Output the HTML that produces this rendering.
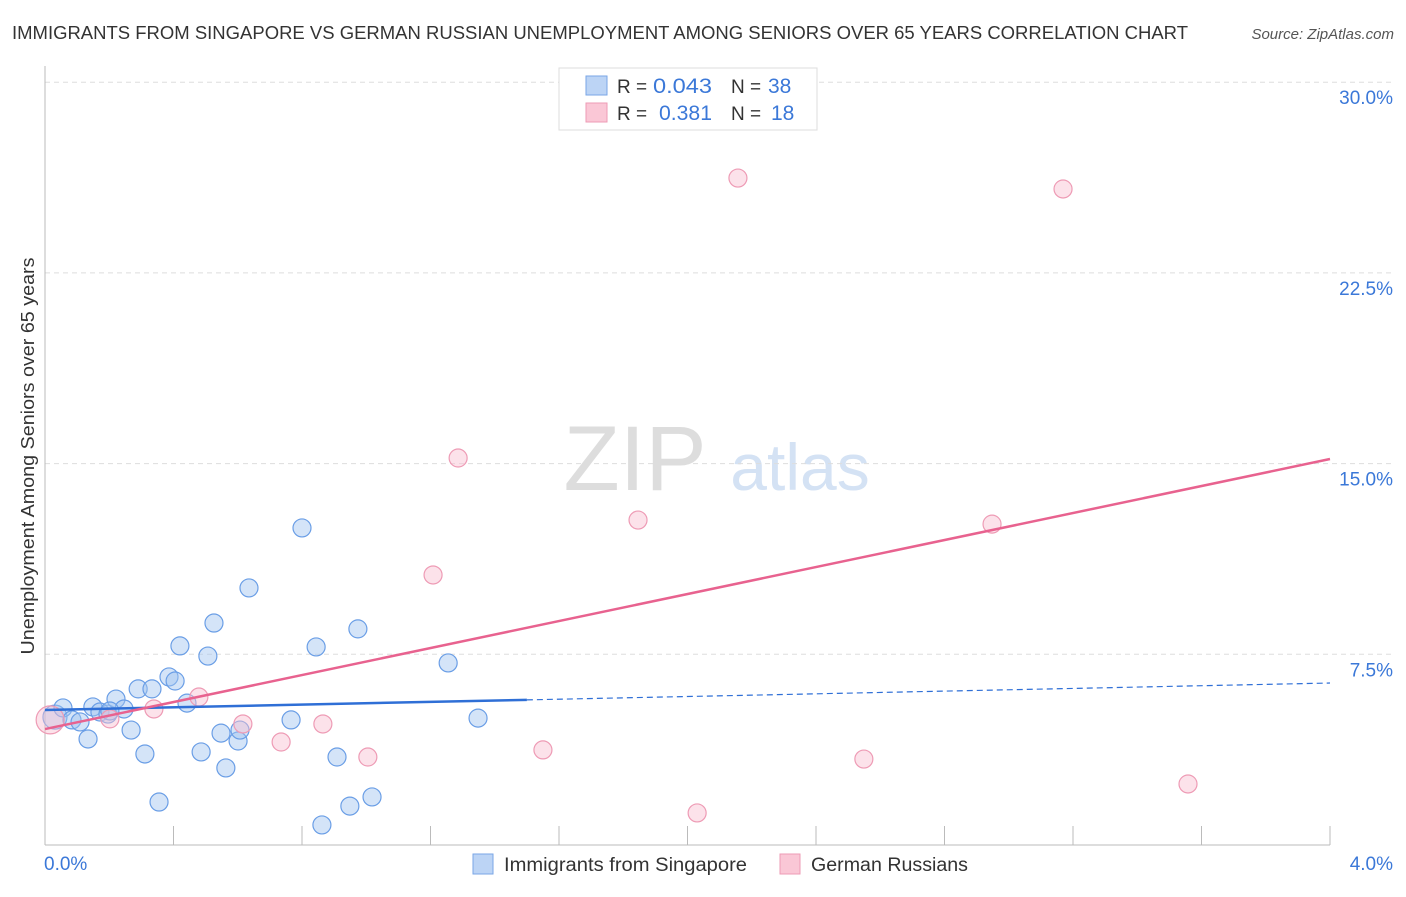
<!DOCTYPE html>
<html><head><meta charset="utf-8"><style>
body{margin:0;background:#fff;font-family:"Liberation Sans",sans-serif}
svg text{font-family:"Liberation Sans",sans-serif}
</style></head><body>
<svg id="c" width="1406" height="892">
<text x="12" y="39" font-size="18" fill="#333" textLength="1176" lengthAdjust="spacingAndGlyphs">IMMIGRANTS FROM SINGAPORE VS GERMAN RUSSIAN UNEMPLOYMENT AMONG SENIORS OVER 65 YEARS CORRELATION CHART</text>
<text x="1394" y="39" font-size="15" fill="#555" text-anchor="end" font-style="italic">Source: ZipAtlas.com</text>
<text x="34" y="456" font-size="18" fill="#333" text-anchor="middle" textLength="397" lengthAdjust="spacingAndGlyphs" transform="rotate(-90 34 456)">Unemployment Among Seniors over 65 years</text>
<text x="635" y="490" font-size="92" fill="#ddd" font-family="Liberation Serif" text-anchor="middle">ZIP</text>
<text x="800" y="490" font-size="66" fill="#d4e2f4" text-anchor="middle">atlas</text>
<g id="grid"></g><g id="marks"></g>
<g>
<rect x="559" y="68" width="258" height="62" fill="#fff" stroke="#ddd"/>
<rect x="586" y="76" width="21" height="19" fill="#bcd4f5" stroke="#7aa6e6"/>
<rect x="586" y="103" width="21" height="19" fill="#fac7d6" stroke="#ee9bb5"/>
<text x="617" y="93" font-size="19" fill="#333">R =</text>
<text x="653" y="93" font-size="21" fill="#3b78d8" textLength="59" lengthAdjust="spacingAndGlyphs">0.043</text>
<text x="731" y="93" font-size="19" fill="#333">N =</text>
<text x="768" y="93" font-size="21" fill="#3b78d8">38</text>
<text x="617" y="120" font-size="19" fill="#333">R =</text>
<text x="659" y="120" font-size="21" fill="#3b78d8" textLength="53" lengthAdjust="spacingAndGlyphs">0.381</text>
<text x="731" y="120" font-size="19" fill="#333">N =</text>
<text x="771" y="120" font-size="21" fill="#3b78d8">18</text>
</g>
<g>
<rect x="473" y="854" width="20" height="20" fill="#bcd4f5" stroke="#7aa6e6"/>
<text x="504" y="871" font-size="19" fill="#333" textLength="243" lengthAdjust="spacingAndGlyphs">Immigrants from Singapore</text>
<rect x="780" y="854" width="20" height="20" fill="#fac7d6" stroke="#ee9bb5"/>
<text x="811" y="871" font-size="19" fill="#333" textLength="157" lengthAdjust="spacingAndGlyphs">German Russians</text>
</g>
</svg>
<script>
const xTicks=[0,4];
const yTicks=[7.5,15,22.5,30];
const blueX=[0.031,0.056,0.084,0.109,0.134,0.149,0.171,0.196,0.221,0.246,0.268,0.290,0.311,0.333,0.355,0.386,0.405,0.420,0.442,0.486,0.507,0.526,0.548,0.563,0.601,0.607,0.635,0.766,0.800,0.844,0.862,0.909,0.949,0.974,1.018,1.255,1.348,0.202];
const blueY=[5.03,5.39,4.92,4.84,4.17,5.43,5.23,5.15,5.74,5.35,4.52,6.14,3.58,6.14,1.69,6.61,6.45,7.83,5.58,3.66,7.43,8.73,4.40,3.03,4.09,4.52,10.11,4.92,12.47,7.79,0.79,3.46,1.53,8.50,1.89,7.16,4.99,5.27];
const pinkX=[0.016,0.202,0.339,0.479,0.616,0.735,0.865,1.005,1.208,1.286,1.550,1.846,2.030,2.157,2.549,2.948,3.169,3.558];
const pinkY=[4.92,4.96,5.35,5.82,4.76,4.05,4.76,3.46,10.62,15.22,3.74,12.78,1.26,26.23,3.38,12.62,25.80,2.40];
const blueTrend=[5.31,6.37]; const blueSolidEnd=1.5;
const pinkTrend=[4.56,15.18];
const NS='http://www.w3.org/2000/svg';
const X=v=>45+v/4*1285, Y=v=>845-v/7.5*190.7;
function mk(t,a,p){const e=document.createElementNS(NS,t);for(const k in a)e.setAttribute(k,a[k]);p.appendChild(e);return e;}
const g=document.getElementById('grid'),m=document.getElementById('marks');
yTicks.forEach(v=>{const l=mk('line',{x1:45,x2:1395,y1:Y(v),y2:Y(v),stroke:'#ddd','stroke-dasharray':'5,4'},g);


const t=mk('text',{x:1393,y:Y(v)+22,'font-size':19,fill:'#3b78d8','text-anchor':'end'},g);t.textContent=v.toFixed(1)+'%';

});
mk('line',{x1:45,x2:45,y1:66,y2:845,stroke:'#bbb'},g);
mk('line',{x1:45,x2:1330,y1:845,y2:845,stroke:'#bbb'},g);
for(let i=1;i<=10;i++){mk('line',{x1:X(i*0.4),x2:X(i*0.4),y1:826,y2:845,stroke:'#bbb'},g);}
xTicks.forEach((v,i)=>{const t=mk('text',{x:i?1393:44,y:870,'font-size':19,fill:'#3b78d8','text-anchor':i?'end':'start'},g);t.textContent=v.toFixed(1)+'%';

});
blueX.forEach((v,i)=>{const c=mk('circle',{cx:X(v),cy:Y(blueY[i]),r:i==0?12:9,fill:'rgba(160,196,240,0.45)',stroke:'#6a9ee6','stroke-width':1.2},m);

});
pinkX.forEach((v,i)=>{const c=mk('circle',{cx:X(v),cy:Y(pinkY[i]),r:i==0?14:9,fill:'rgba(248,190,208,0.45)',stroke:'#ee9bb5','stroke-width':1.2},m);

});
const by=x=>blueTrend[0]+(blueTrend[1]-blueTrend[0])*x/4;
let l=mk('line',{x1:X(0),y1:Y(blueTrend[0]),x2:X(blueSolidEnd),y2:Y(by(blueSolidEnd)),stroke:'#2f6fd6','stroke-width':2.5},m);


l=mk('line',{x1:X(blueSolidEnd),y1:Y(by(blueSolidEnd)),x2:X(4),y2:Y(blueTrend[1]),stroke:'#2f6fd6','stroke-width':1.2,'stroke-dasharray':'6,4'},m);


l=mk('line',{x1:X(0),y1:Y(pinkTrend[0]),x2:X(4),y2:Y(pinkTrend[1]),stroke:'#e8628f','stroke-width':2.5},m);


</script>
</body></html>
